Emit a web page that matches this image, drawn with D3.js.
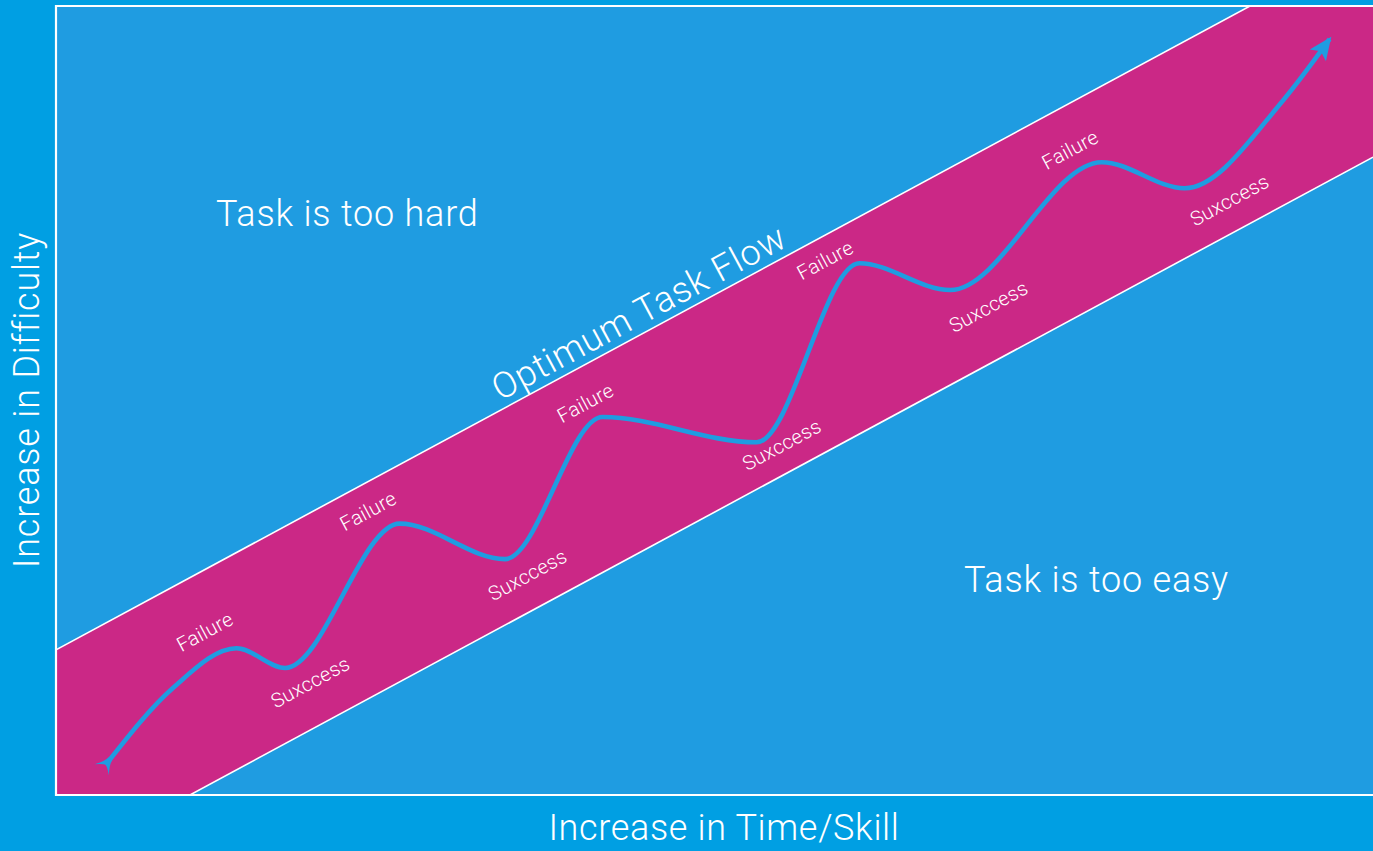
<!DOCTYPE html>
<html lang="en">
<head>
  <meta charset="UTF-8">
  <title>Optimum Task Flow</title>
  <script src="https://d3js.org/d3.v7.min.js"></script>
  <style type="text/css">
    html, body {
      margin: 0;
      padding: 0;
      background: #009fe3;
      overflow: hidden;
    }
    text {
      font-family: "Helvetica Neue", Roboto, "Liberation Sans", sans-serif;
      font-weight: 300;
      fill: #ffffff;
    }
    .big {
      font-size: 36px;
      letter-spacing: 0.8px;
    }
  </style>
</head>
<body>
<script type="text/javascript">
  //Width and height
  var w = 1373;
  var h = 851;

  //Band edges (difficulty at the left and right end of the skill axis)
  var bandX = [0, 100];
  var bandTop = [18.4, 108.4];
  var bandBottom = [-9.15, 80.85];

  //Task flow curve (skill, difficulty)
  var flowX = [3.9, 8.9, 13.7, 17.4, 26.1, 34.1, 41.5, 53.2, 61.0, 67.9, 79.4, 85.7, 93.2, 96.7];
  var flowY = [4.1, 13.6, 18.6, 16.1, 34.4, 29.9, 47.9, 44.7, 67.4, 64.0, 80.2, 76.9, 88.1, 95.8];

  //Labels along the curve
  var failureX = [11.3, 23.7, 40.2, 58.4, 77.0];
  var failureY = [20.7, 36.0, 49.7, 67.8, 81.8];
  var successX = [19.3, 35.8, 55.1, 70.8, 89.1];
  var successY = [14.3, 27.9, 44.4, 61.9, 75.4];

  //Create SVG element
  var svg = d3.select("body")
    .append("svg")
    .attr("width", w)
    .attr("height", h);

  //Create scale functions
  var xScale = d3.scaleLinear()
    .domain([0, 100])
    .range([56, 1373]);

  var yScale = d3.scaleLinear()
    .domain([0, 100])
    .range([795, 6]);

  var angle = Math.atan2(yScale(bandTop[1]) - yScale(bandTop[0]),
                         xScale(bandX[1]) - xScale(bandX[0])) * 180 / Math.PI;

  var defs = svg.append("defs");

  defs.append("clipPath")
    .attr("id", "plot-clip")
    .append("rect")
    .attr("x", xScale(0))
    .attr("y", yScale(100))
    .attr("width", xScale(100) - xScale(0))
    .attr("height", yScale(0) - yScale(100));

  defs.append("marker")
    .attr("id", "head")
    .attr("markerUnits", "userSpaceOnUse")
    .attr("viewBox", "-24 -12 28 24")
    .attr("markerWidth", 28)
    .attr("markerHeight", 24)
    .attr("refX", 0)
    .attr("refY", 0)
    .attr("orient", "auto")
    .append("path")
    .attr("d", "M-20,-10 L3,0 L-20,10 L-15,0 Z")
    .attr("fill", "#1f9ce1");

  defs.append("marker")
    .attr("id", "tail")
    .attr("markerUnits", "userSpaceOnUse")
    .attr("viewBox", "-12 -12 20 24")
    .attr("markerWidth", 20)
    .attr("markerHeight", 24)
    .attr("refX", 0)
    .attr("refY", 0)
    .attr("orient", "auto")
    .append("path")
    .attr("d", "M5,-2.4 Q0,-2.4 -9,-9 Q-3,-2.4 -3,0 Q-3,2.4 -9,9 Q0,2.4 5,2.4 Z")
    .attr("fill", "#1f9ce1");

  //Plot background
  svg.append("rect")
    .attr("x", xScale(0))
    .attr("y", yScale(100))
    .attr("width", xScale(100) - xScale(0))
    .attr("height", yScale(0) - yScale(100))
    .attr("fill", "#1f9ce1");

  var plot = svg.append("g")
    .attr("clip-path", "url(#plot-clip)");

  //Optimum band
  var band = bandX.map(function(d, i) { return [d, bandTop[i]]; })
    .concat(bandX.map(function(d, i) { return [d, bandBottom[i]]; }).reverse());

  var edge = d3.line()
    .x(function(d) { return xScale(d[0]); })
    .y(function(d) { return yScale(d[1]); });

  plot.append("path")
    .attr("d", edge(band) + "Z")
    .attr("fill", "#cb2886");

  [bandTop, bandBottom].forEach(function(vals) {
    plot.append("path")
      .attr("d", edge(bandX.map(function(d, i) { return [d, vals[i]]; })))
      .attr("fill", "none")
      .attr("stroke", "#ffffff")
      .attr("stroke-width", 1.6);
  });

  //Flow curve
  var flow = d3.line()
    .curve(d3.curveMonotoneX)
    .x(function(d) { return xScale(d[0]); })
    .y(function(d) { return yScale(d[1]); });

  svg.append("path")
    .attr("d", flow(flowX.map(function(d, i) { return [d, flowY[i]]; })))
    .attr("fill", "none")
    .attr("stroke", "#1f9ce1")
    .attr("stroke-width", 4.6)
    .attr("marker-start", "url(#tail)")
    .attr("marker-end", "url(#head)");

  //Plot border
  svg.append("path")
    .attr("d", "M" + (xScale(100) + 5) + "," + yScale(100) +
               "H" + xScale(0) + "V" + yScale(0) + "H" + (xScale(100) + 5))
    .attr("fill", "none")
    .attr("stroke", "#ffffff")
    .attr("stroke-width", 2.2);

  //Curve labels
  function addLabels(xs, ys, label) {
    svg.selectAll(null)
      .data(xs)
      .enter()
      .append("text")
      .attr("transform", function(d, i) {
        return "translate(" + xScale(d) + "," + yScale(ys[i]) + ") rotate(" + angle + ")";
      })
      .attr("text-anchor", "middle")
      .attr("dominant-baseline", "central")
      .attr("font-size", "20px")
      .attr("letter-spacing", "0.3px")
      .text(label);
  }
  addLabels(failureX, failureY, "Failure");
  addLabels(successX, successY, "Suxccess");

  //Band title
  var titleX = 45;
  svg.append("text")
    .attr("class", "big")
    .attr("transform", "translate(" + xScale(titleX) + "," +
          yScale(bandTop[0] + (bandTop[1] - bandTop[0]) * titleX / 100) + ") rotate(" + angle + ")")
    .attr("y", -8)
    .attr("text-anchor", "middle")
    .text("Optimum Task Flow");

  //Region labels
  svg.append("text")
    .attr("class", "big")
    .attr("x", 216)
    .attr("y", 226)
    .text("Task is too hard");

  svg.append("text")
    .attr("class", "big")
    .attr("x", 964)
    .attr("y", 592)
    .text("Task is too easy");

  //Axis titles
  svg.append("text")
    .attr("class", "big")
    .attr("text-anchor", "middle")
    .attr("x", 724)
    .attr("y", 840)
    .style("letter-spacing", "0.65px")
    .text("Increase in Time/Skill");

  svg.append("text")
    .attr("class", "big")
    .attr("text-anchor", "middle")
    .attr("transform", "translate(39,400) rotate(-90)")
    .text("Increase in Difficulty");
</script>
</body>
</html>
